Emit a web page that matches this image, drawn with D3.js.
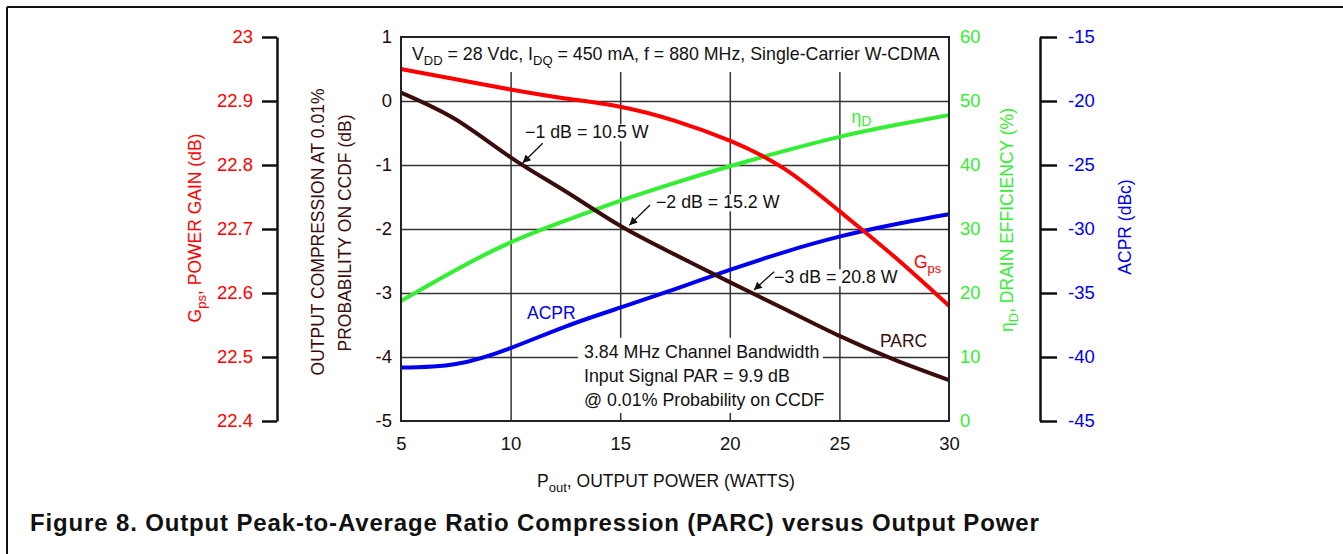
<!DOCTYPE html>
<html>
<head>
<meta charset="utf-8">
<script src="https://cdn.jsdelivr.net/npm/d3@7"></script>
<style>
  html, body { margin: 0; padding: 0; background: #fff; }
  svg { display: block; font-family: "Liberation Sans", Arial, Helvetica, sans-serif; }
</style>
</head>
<body>
<svg id="chart" width="1343" height="554"></svg>
<script>
// ---------- data ----------
const POUT = [5, 7.5, 10, 12.5, 15, 17.5, 20, 22.5, 25, 27.5, 30];
const GPS  = [22.950, 22.934, 22.918, 22.904, 22.891, 22.869, 22.838, 22.794, 22.728, 22.657, 22.580];
const PARC = [0.13, -0.29, -0.88, -1.41, -1.95, -2.40, -2.83, -3.25, -3.67, -4.04, -4.36];
const ETA  = [18.75, 23.6, 27.9, 31.3, 34.4, 37.2, 39.8, 42.2, 44.4, 46.2, 47.8];
const ACPR = [-40.83, -40.55, -39.30, -37.62, -36.15, -34.7, -33.2, -31.8, -30.6, -29.65, -28.85];

const X_TICKS    = [5, 10, 15, 20, 25, 30];
const GPS_TICKS  = [22.4, 22.5, 22.6, 22.7, 22.8, 22.9, 23];
const PARC_TICKS = [-5, -4, -3, -2, -1, 0, 1];
const ETA_TICKS  = [0, 10, 20, 30, 40, 50, 60];
const ACPR_TICKS = [-45, -40, -35, -30, -25, -20, -15];

// ---------- layout ----------
const L = 401, R = 949, T = 37, B = 421;
const C_RED = "#ff0000", C_GREEN = "#33ee33", C_BLUE = "#0000ee", C_DARK = "#3a0c0c";

const svg = d3.select("#chart");

const x  = d3.scaleLinear().domain([5, 30]).range([L, R]);
const yP = d3.scaleLinear().domain([-5, 1]).range([B, T]);
const yG = d3.scaleLinear().domain([22.4, 23]).range([B, T]);
const yE = d3.scaleLinear().domain([0, 60]).range([B, T]);
const yA = d3.scaleLinear().domain([-45, -15]).range([B, T]);

// outer page frame (top and left rules)
svg.append("line").attr("x1", 7).attr("y1", 7).attr("x2", 1343).attr("y2", 7)
  .attr("stroke", "#111").attr("stroke-width", 2);
svg.append("line").attr("x1", 7).attr("y1", 7).attr("x2", 7).attr("y2", 554)
  .attr("stroke", "#111").attr("stroke-width", 2);

// ---------- grid ----------
const grid = svg.append("g");
grid.append("g").attr("transform", `translate(0,${B})`)
  .call(d3.axisBottom(x).tickValues(X_TICKS.slice(1, -1)).tickSize(-(B - T)).tickFormat(""))
  .call(g => g.select(".domain").remove())
  .selectAll("line").attr("stroke", "#333").attr("stroke-width", 1.5);
grid.append("g").attr("transform", `translate(${L},0)`)
  .call(d3.axisLeft(yP).tickValues(PARC_TICKS.slice(1, -1)).tickSize(-(R - L)).tickFormat(""))
  .call(g => g.select(".domain").remove())
  .selectAll("line").attr("stroke", "#333").attr("stroke-width", 1.5);

// white boxes behind header and bottom note
svg.append("rect").attr("x", L).attr("y", yP(1)).attr("width", R - L).attr("height", yP(0.453) - yP(1)).attr("fill", "#fff");
svg.append("rect").attr("x", x(13.07)).attr("y", yP(-3.70)).attr("width", x(24.25) - x(13.07))
  .attr("height", yP(-4.875) - yP(-3.70)).attr("fill", "#fff");

// ---------- annotations with white background ----------
const ANN = [
  {t: "\u22121 dB = 10.5 W", tx: 10.657, ty: -0.583, ax1: 11.465, ay1: -0.661, ax2: 10.55, ay2: -0.97},
  {t: "\u22122 dB = 15.2 W", tx: 16.63,  ty: -1.677, ax1: 16.36,  ay1: -1.625, ax2: 15.415, ay2: -1.94},
  {t: "\u22123 dB = 20.8 W", tx: 22.02,  ty: -2.848, ax1: 22.02,  ay1: -2.667, ax2: 21.10, ay2: -2.955}
];
const annG = svg.append("g");
ANN.forEach(a => {
  const bg = annG.append("rect").attr("fill", "#fff");
  const t = annG.append("text").attr("x", x(a.tx)).attr("y", yP(a.ty))
    .attr("font-size", 17.8).attr("fill", "#111").text(a.t);
  const bb = t.node().getBBox();
  bg.attr("x", bb.x - 2).attr("y", bb.y + 2).attr("width", bb.width + 4).attr("height", bb.height - 3);
});

// ---------- curves ----------
const mk = (ys, yScale) => d3.line().curve(d3.curveNatural)
  .x((d, i) => x(POUT[i])).y(d => yScale(d))(ys);
const curves = svg.append("g").attr("fill", "none").attr("stroke-width", 4).attr("stroke-linejoin", "round");
curves.append("path").attr("d", mk(ETA, yE)).attr("stroke", C_GREEN);
curves.append("path").attr("d", mk(ACPR, yA)).attr("stroke", C_BLUE);
curves.append("path").attr("d", mk(GPS, yG)).attr("stroke", C_RED);
curves.append("path").attr("d", mk(PARC, yP)).attr("stroke", C_DARK);

// arrows
const defs = svg.append("defs");
defs.append("marker").attr("id", "ah").attr("viewBox", "0 0 10 10").attr("refX", 10).attr("refY", 5)
  .attr("markerWidth", 10).attr("markerHeight", 8).attr("markerUnits", "userSpaceOnUse").attr("orient", "auto")
  .append("path").attr("d", "M0,0 L10,5 L0,10 Z").attr("fill", "#111");
ANN.forEach(a => {
  annG.append("line").attr("x1", x(a.ax1)).attr("y1", yP(a.ay1)).attr("x2", x(a.ax2)).attr("y2", yP(a.ay2))
    .attr("stroke", "#111").attr("stroke-width", 1.3).attr("marker-end", "url(#ah)");
});

// plot frame
svg.append("rect").attr("x", L).attr("y", T).attr("width", R - L).attr("height", B - T)
  .attr("fill", "none").attr("stroke", "#222").attr("stroke-width", 2);

// ---------- axes ----------
function styleAxis(g, color, fs) {
  g.selectAll("text").attr("fill", color).attr("font-size", fs).attr("font-family", null);
  g.selectAll("line").attr("stroke", "#111").attr("stroke-width", 2.5);
  g.select(".domain").attr("stroke", "#111").attr("stroke-width", 2.5);
}
// Gps axis (left, separate spine)
svg.append("g").attr("transform", "translate(277,0)")
  .call(d3.axisLeft(yG).tickValues(GPS_TICKS).tickFormat(d => String(d)).tickSize(15).tickSizeOuter(0).tickPadding(9))
  .call(g => styleAxis(g, C_RED, 18.5));
// PARC axis (plot left)
svg.append("g").attr("transform", `translate(${L},0)`)
  .call(d3.axisLeft(yP).tickValues(PARC_TICKS).tickFormat(d => String(d)).tickSize(0).tickPadding(9))
  .call(g => g.select(".domain").remove())
  .call(g => styleAxis(g, "#2a0808", 18.5));
// Drain efficiency axis (plot right)
svg.append("g").attr("transform", `translate(${R},0)`)
  .call(d3.axisRight(yE).tickValues(ETA_TICKS).tickSize(0).tickPadding(11))
  .call(g => g.select(".domain").remove())
  .call(g => styleAxis(g, C_GREEN, 18.5));
// ACPR axis (right, separate spine)
svg.append("g").attr("transform", "translate(1040,0)")
  .call(d3.axisRight(yA).tickValues(ACPR_TICKS).tickFormat(d => String(d)).tickSize(17).tickSizeOuter(0).tickPadding(11))
  .call(g => styleAxis(g, C_BLUE, 18.5));
// X axis
svg.append("g").attr("transform", `translate(0,${B})`)
  .call(d3.axisBottom(x).tickValues(X_TICKS).tickSize(0).tickPadding(16))
  .call(g => g.select(".domain").remove())
  .call(g => styleAxis(g, "#111", 18.5));

// ---------- axis titles ----------
function rotTitle(cx, cy, color, parts) {
  const t = svg.append("text").attr("transform", `translate(${cx},${cy}) rotate(-90)`)
    .attr("text-anchor", "middle").attr("font-size", 17.5).attr("fill", color);
  parts.forEach(p => {
    const s = t.append("tspan").text(p.s);
    if (p.sub) s.attr("font-size", 13).attr("dy", 5);
    if (p.after) s.attr("dy", -5);
  });
  return t;
}
rotTitle(201, 228, C_RED, [{s: "G"}, {s: "ps", sub: true}, {s: ", POWER GAIN (dB)", after: true}]);
rotTitle(324, 232, C_DARK, [{s: "OUTPUT COMPRESSION AT 0.01%"}]);
rotTitle(351, 233, C_DARK, [{s: "PROBABILITY ON CCDF (dB)"}]);
rotTitle(1013, 220, C_GREEN, [{s: "\u03B7"}, {s: "D", sub: true}, {s: ", DRAIN EFFICIENCY (%)", after: true}]);
rotTitle(1131, 227, C_BLUE, [{s: "ACPR (dBc)"}]);

const xt = svg.append("text").attr("x", 666).attr("y", 487).attr("text-anchor", "middle")
  .attr("font-size", 17.5).attr("fill", "#111");
xt.append("tspan").text("P");
xt.append("tspan").text("out").attr("font-size", 13).attr("dy", 5);
xt.append("tspan").text(", OUTPUT POWER (WATTS)").attr("dy", -5);

// ---------- header / notes / series labels ----------
const hd = svg.append("text").attr("x", x(5.5)).attr("y", yP(0.64)).attr("font-size", 17.8).attr("fill", "#111");
hd.append("tspan").text("V");
hd.append("tspan").text("DD").attr("font-size", 13).attr("dy", 5);
hd.append("tspan").text(" = 28 Vdc, I").attr("dy", -5);
hd.append("tspan").text("DQ").attr("font-size", 13).attr("dy", 5);
hd.append("tspan").text(" = 450 mA, f = 880 MHz, Single-Carrier W-CDMA").attr("dy", -5);

const NOTE = ["3.84 MHz Channel Bandwidth", "Input Signal PAR = 9.9 dB", "@ 0.01% Probability on CCDF"];
const NOTE_Y = [-4.016, -4.39, -4.766];
NOTE.forEach((s, i) => svg.append("text").attr("x", x(13.35)).attr("y", yP(NOTE_Y[i]))
  .attr("font-size", 17.8).attr("fill", "#111").text(s));

// series labels
const eL = svg.append("text").attr("x", x(25.55)).attr("y", yP(-0.344)).attr("font-size", 17.5).attr("fill", C_GREEN);
eL.append("tspan").text("\u03B7");
eL.append("tspan").text("D").attr("font-size", 14).attr("dy", 3);
svg.append("text").attr("x", x(10.75)).attr("y", yP(-3.406)).attr("font-size", 17.5).attr("fill", C_BLUE).text("ACPR");
svg.append("text").attr("x", x(26.85)).attr("y", yP(-3.84)).attr("font-size", 17.5).attr("fill", C_DARK).text("PARC");
const gL = svg.append("text").attr("x", x(28.40)).attr("y", yP(-2.61)).attr("font-size", 17.5).attr("fill", C_RED);
gL.append("tspan").text("G");
gL.append("tspan").text("ps").attr("font-size", 13).attr("dy", 5);

// caption
svg.append("text").attr("x", 30).attr("y", 531).attr("font-size", 24).attr("font-weight", "bold")
  .attr("letter-spacing", 0.85).attr("fill", "#111")
  .text("Figure 8. Output Peak-to-Average Ratio Compression (PARC) versus Output Power");
</script>
</body>
</html>
